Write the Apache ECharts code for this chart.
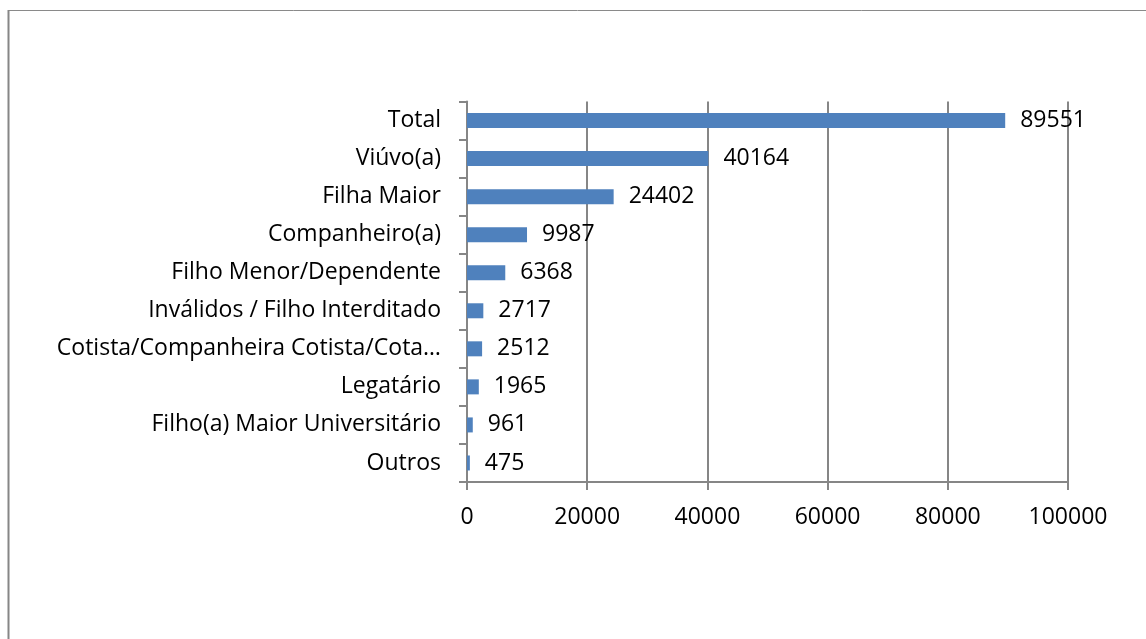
<!DOCTYPE html>
<html>
<head>
<meta charset="utf-8">
<script src="https://cdn.jsdelivr.net/npm/echarts@6/dist/echarts.min.js"></script>
<style>
html,body{margin:0;padding:0;background:#fff;}
#chart{width:1146px;height:639px;}
</style>
</head>
<body>
<div id="chart"></div>
<script>
var categories = ["Outros","Filho(a) Maior Universitário","Legatário","Cotista/Companheira Cotista/Cota…","Inválidos / Filho Interditado","Filho Menor/Dependente","Companheiro(a)","Filha Maior","Viúvo(a)","Total"];
var values = [475,961,1965,2512,2717,6368,9987,24402,40164,89551];
var xTicks = [0,20000,40000,60000,80000,100000];

var FONT = "Open Sans";
var FS = 23;
var chart = echarts.init(document.getElementById('chart'), null, {renderer:'canvas'});
chart.setOption({
  animation:false,
  backgroundColor:'#ffffff',
  textStyle:{fontFamily:FONT},
  graphic:[
    {type:'line', shape:{x1:9, y1:10.5, x2:1146, y2:10.5}, style:{stroke:'#8a8a8a', lineWidth:1}},
    {type:'line', shape:{x1:8.5, y1:10, x2:8.5, y2:639}, style:{stroke:'#868686', lineWidth:2}}
  ],
  grid:{left:467, right:78, top:101.5, bottom:157, containLabel:false},
  xAxis:{
    type:'value', min:0, max:100000, interval:20000,
    axisLine:{show:true, lineStyle:{color:'#868686', width:2}},
    axisTick:{show:true, length:8, lineStyle:{color:'#868686', width:2}},
    splitLine:{show:true, lineStyle:{color:'#868686', width:2}},
    axisLabel:{color:'#000', fontSize:FS, fontFamily:FONT, margin:24,
      formatter:function(v){return xTicks.indexOf(v)>=0 ? String(v) : '';}}
  },
  yAxis:{
    type:'category', data:categories,
    axisLine:{show:true, lineStyle:{color:'#868686', width:2}},
    axisTick:{show:true, length:8, alignWithLabel:false, lineStyle:{color:'#868686', width:2}},
    splitLine:{show:false},
    axisLabel:{color:'#000', fontSize:FS, fontFamily:FONT, margin:26, interval:0}
  },
  series:[{
    type:'bar', data:values, barWidth:15,
    itemStyle:{color:'#4F81BD'},
    label:{show:true, position:'right', distance:15, color:'#000', fontSize:FS, fontFamily:FONT}
  }]
});
</script>
</body>
</html>
